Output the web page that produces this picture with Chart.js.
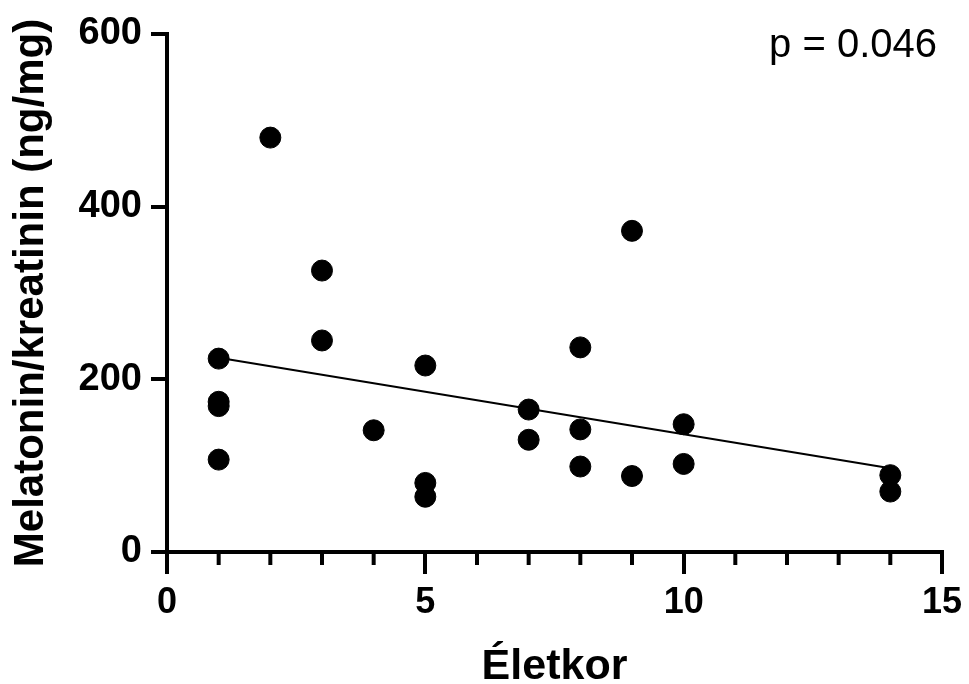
<!DOCTYPE html>
<html>
<head>
<meta charset="utf-8">
<script src="https://cdn.jsdelivr.net/npm/chart.js@4"></script>
<style>
    html, body { margin: 0; padding: 0; background: #fff; }
    #box { width: 969px; height: 684px; }
</style>
</head>
<body>
<div id="box"><canvas id="scatter"></canvas></div>
<script>
// ages (x) and melatonin/creatinine (y)
const ages = [1, 1, 1, 1, 2, 3, 3, 4, 5, 5, 5, 7, 7, 8, 8, 8, 9, 9, 10, 10, 14, 14];
const melatonin = [224, 174, 169, 107, 480, 326, 245, 141, 216, 80, 64, 165, 130, 237, 142, 99, 372, 88, 148, 102, 89, 70];

// regression line end points
const fitX = [1, 14];
const fitY = [225, 97];

const xTicks = [0, 5, 10, 15];
const yTicks = [0, 200, 400, 600];
const pText = 'p = 0.046';

const points = ages.map((a, i) => ({ x: a, y: melatonin[i] }));
const fitLine = fitX.map((a, i) => ({ x: a, y: fitY[i] }));

const font = 'Liberation Sans, Arial, sans-serif';

//#region plugins
// minor ticks on the x axis at every whole year
const minorTicks = {
    id: 'minorTicks',
    afterDraw(chart) {
        const xs = chart.scales.x;
        const ctx = chart.ctx;
        ctx.save();
        ctx.strokeStyle = '#000';
        ctx.lineWidth = 4;
        for (let v = 0; v <= 15; v++) {
            if (v % 5 === 0) continue;
            const px = xs.getPixelForValue(v);
            ctx.beginPath();
            ctx.moveTo(px, xs.top);
            ctx.lineTo(px, xs.top + 13);
            ctx.stroke();
        }
        ctx.restore();
    }
};

const pLabel = {
    id: 'pLabel',
    afterDraw(chart) {
        const area = chart.chartArea;
        const ctx = chart.ctx;
        ctx.save();
        ctx.fillStyle = '#000';
        ctx.font = '40px ' + font;
        ctx.textAlign = 'right';
        ctx.textBaseline = 'middle';
        ctx.fillText(pText, area.right - 5, area.top + 12);
        ctx.restore();
    }
};
//#endregion

const config = {
    type: 'scatter',
    data: {
        datasets: [{
            label: 'data',
            data: points,
            backgroundColor: '#000',
            borderColor: '#000',
            pointRadius: 10.5,
            pointHoverRadius: 10.5,
            order: 1
        }, {
            type: 'line',
            label: 'fit',
            data: fitLine,
            borderColor: '#000',
            borderWidth: 2,
            pointRadius: 0,
            fill: false,
            order: 2
        }]
    },
    plugins: [minorTicks, pLabel],
    options: {
        responsive: true,
        maintainAspectRatio: false,
        animation: false,
        layout: { padding: { top: 34, right: 24, left: 0, bottom: 0 } },
        plugins: {
            legend: { display: false },
            tooltip: { enabled: false }
        },
        scales: {
            x: {
                type: 'linear',
                min: 0,
                max: 15,
                afterBuildTicks: (scale) => { scale.ticks = xTicks.map(v => ({ value: v })); },
                afterFit: (scale) => { scale.height = 132; },
                border: { display: true, color: '#000', width: 4 },
                grid: { display: true, drawOnChartArea: false, drawTicks: true, tickLength: 22, lineWidth: 4, color: '#000' },
                ticks: {
                    color: '#000',
                    padding: 7,
                    maxRotation: 0,
                    font: { family: font, size: 36, weight: 'bold' }
                },
                title: {
                    display: true,
                    text: 'Életkor',
                    color: '#000',
                    padding: { top: 0, bottom: -5 },
                    font: { family: font, size: 43, weight: 'bold', lineHeight: 1 }
                }
            },
            y: {
                type: 'linear',
                min: 0,
                max: 600,
                afterBuildTicks: (scale) => { scale.ticks = yTicks.map(v => ({ value: v })); },
                afterFit: (scale) => { scale.width = 167; },
                border: { display: true, color: '#000', width: 4 },
                grid: { display: true, drawOnChartArea: false, drawTicks: true, tickLength: 16, lineWidth: 4, color: '#000' },
                ticks: {
                    color: '#000',
                    padding: 9,
                    font: { family: font, size: 38, weight: 'bold' }
                },
                title: {
                    display: true,
                    text: 'Melatonin/kreatinin (ng/mg)',
                    color: '#000',
                    padding: { top: 10, bottom: 0 },
                    font: { family: font, size: 42, weight: 'bold', lineHeight: 1 }
                }
            }
        }
    }
};

new Chart(document.getElementById('scatter'), config);
</script>
</body>
</html>
